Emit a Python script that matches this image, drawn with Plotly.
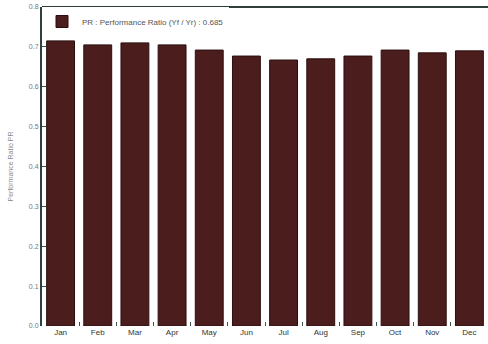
import plotly.graph_objects as go

# Monthly performance ratio values
months = ['Jan', 'Feb', 'Mar', 'Apr', 'May', 'Jun',
          'Jul', 'Aug', 'Sep', 'Oct', 'Nov', 'Dec']
pr_values = [0.715, 0.705, 0.710, 0.705, 0.692, 0.677,
             0.667, 0.670, 0.677, 0.692, 0.685, 0.690]
pr_label = 'PR : Performance Ratio (Yf / Yr) : 0.685'
y_ticks = [0.0, 0.1, 0.2, 0.3, 0.4, 0.5, 0.6, 0.7, 0.8]

fig = go.Figure(go.Bar(
    x=months,
    y=pr_values,
    name=pr_label,
    marker=dict(color='#4b1d1d', line=dict(color='#2c0e0e', width=1)),
    showlegend=True,
))

fig.update_layout(
    width=488, height=344,
    margin=dict(l=42, r=0, t=7, b=18),
    paper_bgcolor='white',
    plot_bgcolor='white',
    bargap=0.25,
    font=dict(family='Liberation Sans, Arial, sans-serif', size=8, color='#555555'),
    legend=dict(
        x=0.0, y=1.0, xanchor='left', yanchor='top',
        bgcolor='white', borderwidth=0,
        font=dict(size=8, color='#555555'),
        itemwidth=30,
    ),
    xaxis=dict(
        showgrid=False,
        ticks='inside', tickson='boundaries', ticklen=4,
        tickcolor='#3d504c',
        tickfont=dict(size=8, color='#333333'),
        showline=False,
    ),
    yaxis=dict(
        range=[0, 0.8],
        tickvals=y_ticks,
        ticktext=[f'{v:.1f}' for v in y_ticks],
        showgrid=False, zeroline=False,
        ticks='inside', ticklen=4, tickcolor='#3d504c',
        tickfont=dict(size=7, color='#777777'),
        showline=True, linecolor='#2f3f3c', linewidth=2,
        automargin=False,
        title=dict(text='Performance Ratio PR', font=dict(size=7, color='#888888'), standoff=14),
    ),
)

# Dark frame line along the top of the plot area
fig.add_shape(type='line', xref='paper', yref='paper', x0=0, x1=1, y0=1, y1=1,
              line=dict(color='#2f3f3c', width=2))

# remove the default page margin so the chart sits at the window's corner
fig.write_html("out.html", config={'displayModeBar': False},
               post_script="document.body.style.margin='0';")
